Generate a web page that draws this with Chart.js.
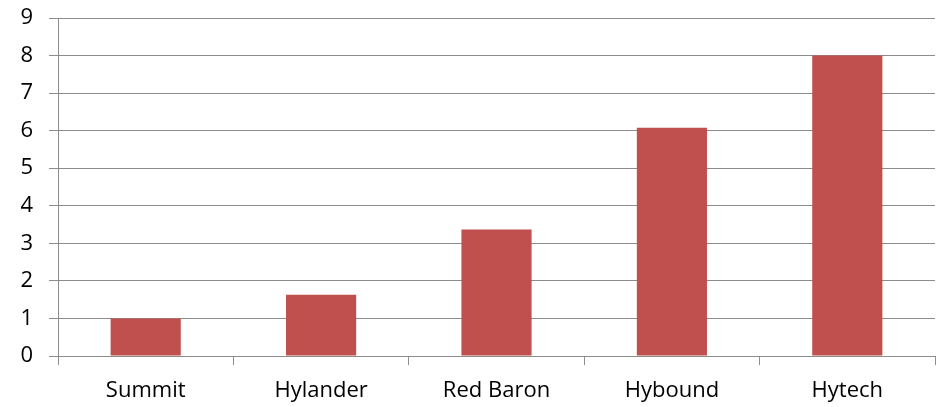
<!DOCTYPE html>
<html>
<head>
<meta charset="utf-8">
<script src="https://cdn.jsdelivr.net/npm/chart.js@4"></script>
<style>
  body { margin: 0; background: #fff; }
  #wrap { width: 936px; height: 407px; }
</style>
</head>
<body>
<div id="wrap"><canvas id="myChart" width="936" height="407"></canvas></div>
<script>
const varieties = ['Summit', 'Hylander', 'Red Baron', 'Hybound', 'Hytech'];
const values = [1.0, 1.63, 3.37, 6.08, 8.0];
const yMin = 0;
const yMax = 9;

const gridGray = '#8c8c8c';
const labelFont = { family: 'Open Sans', size: 22 };

const ctx = document.getElementById('myChart').getContext('2d');
const chart = new Chart(ctx, {
    type: 'bar',
    data: {
        labels: varieties,
        datasets: [{
            data: values,
            backgroundColor: '#C0504D',
            borderWidth: 0,
            barPercentage: 0.4,
            categoryPercentage: 1.0
        }]
    },
    options: {
        responsive: false,
        animation: false,
        layout: { padding: { top: 18, right: 1, bottom: 3, left: 0 } },
        plugins: {
            legend: { display: false },
            tooltip: { enabled: false }
        },
        scales: {
            x: {
                afterFit: (s) => {
                    s.height = 48;
                    s.paddingBottom = 0;
                },
                grid: {
                    drawOnChartArea: false,
                    drawTicks: true,
                    tickLength: 9,
                    color: gridGray
                },
                border: { color: gridGray, width: 1 },
                ticks: {
                    color: '#000',
                    font: labelFont,
                    padding: 13,
                    maxRotation: 0
                }
            },
            y: {
                min: yMin,
                max: yMax,
                afterFit: (s) => {
                    s.width = 58;
                    s.paddingTop = 0;
                    s.paddingBottom = 0;
                },
                grid: {
                    color: gridGray,
                    tickLength: 9
                },
                border: { color: gridGray, width: 1 },
                ticks: {
                    stepSize: 1,
                    color: '#000',
                    font: labelFont,
                    padding: 16
                }
            }
        }
    }
});
</script>
</body>
</html>
